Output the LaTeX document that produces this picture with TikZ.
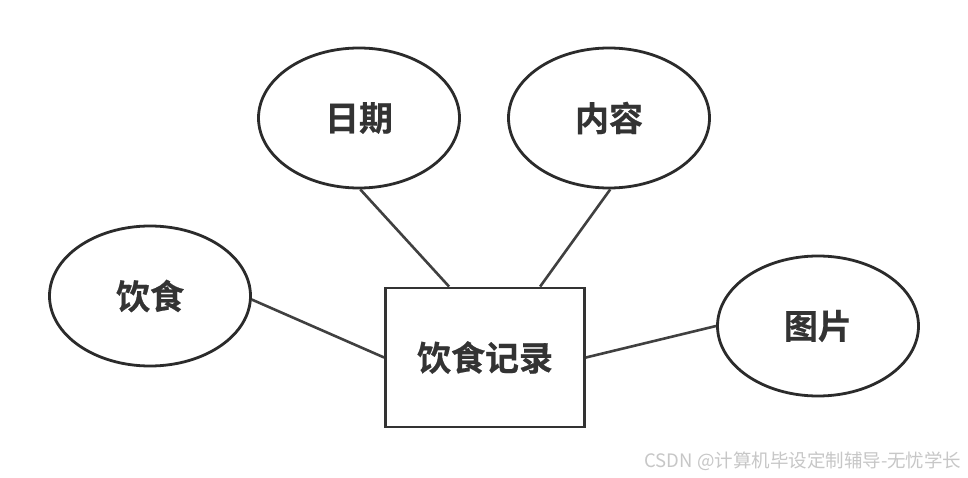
\documentclass[tikz,border=0pt]{standalone}
\usepackage{fontspec}
\newfontfamily\cjk{Noto Sans CJK SC}
\newfontfamily\cjkb{Noto Sans CJK SC Bold}[FakeBold=0.6]
\usetikzlibrary{shapes.geometric,calc}
\definecolor{ln}{HTML}{2B2B2B}
\definecolor{tx}{HTML}{333333}
\begin{document}
\begin{tikzpicture}[x=1pt,y=-1pt,
  attr/.style={ellipse,draw=ln,line width=2.8pt,fill=white,minimum width=201pt,minimum height=140pt,inner sep=0pt,font=\cjkb\fontsize{34}{36}\selectfont,text=tx},
  ent/.style={rectangle,draw=ln!90!gray,line width=2.8pt,fill=white,minimum width=199pt,minimum height=139pt,inner sep=0pt,font=\cjkb\fontsize{34}{36}\selectfont,text=tx},
  conn/.style={draw=ln!90,line width=2.6pt}]
\useasboundingbox[fill=white] (0,0) rectangle (968,478);
\node[ent] (rec) at (485,357.5) {饮食记录};
\node[attr] (riqi) at (359,118) {日期};
\node[attr] (neirong) at (609,118) {内容};
\node[attr] (yinshi) at (150,296) {饮食};
\node[attr] (tupian) at (818,326) {图片};
\coordinate (t1) at ($(rec.north west)+(65,0)$);
\coordinate (t2) at ($(rec.north west)+(156,0)$);
\draw[conn] (riqi.-89) -- (t1);
\draw[conn] (neirong.-89) -- (t2);
\draw[conn] (yinshi.-2) -- (rec.west);
\draw[conn] (tupian.west) -- (rec.east);
\node[font=\cjk\fontsize{18.5}{21}\selectfont,text=black!22,anchor=east] (wm) at (965,461) {CSDN @计算机毕设定制辅导-无忧学长};
\end{tikzpicture}
\end{document}
